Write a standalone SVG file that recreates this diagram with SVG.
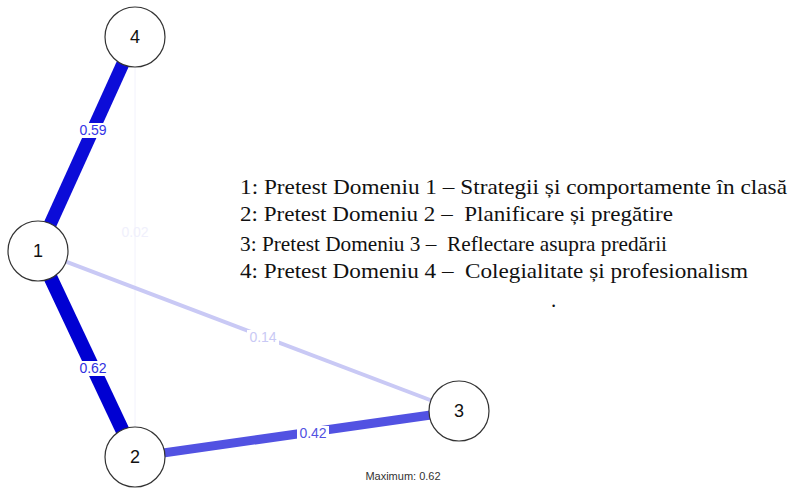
<svg xmlns="http://www.w3.org/2000/svg" width="789" height="488" viewBox="0 0 789 488">
<style>
.node circle{fill:#fff;stroke:#333;stroke-width:1.2}
.node text{font-family:"Liberation Sans",Arial,sans-serif;font-size:18px;fill:#111;text-anchor:middle;dominant-baseline:central}
.elab{font-family:"Liberation Sans",Arial,sans-serif;font-size:14px;text-anchor:middle;dominant-baseline:central}
.bg{fill:#fff}
.leg{font-family:"Liberation Serif","DejaVu Serif",serif;font-size:21px;fill:#111;white-space:pre}
.max{font-family:"Liberation Sans",Arial,sans-serif;font-size:11px;fill:#333;text-anchor:middle}
</style>
<rect width="789" height="488" fill="#fff"/>
<g id="connectors" stroke-linecap="butt">
<line x1="135" y1="37" x2="135" y2="457" stroke="#f2f2fc" stroke-width="1"/>
<line x1="38" y1="251" x2="459" y2="411" stroke="#c9c9f5" stroke-width="4"/>
<line x1="135" y1="457" x2="459" y2="411" stroke="#5252e2" stroke-width="9"/>
<line x1="135" y1="37" x2="38" y2="251" stroke="#0c0cd8" stroke-width="13"/>
<line x1="38" y1="251" x2="135" y2="457" stroke="#0000d2" stroke-width="14"/>
<text class="elab" x="135" y="232" fill="#f0f0fc">0.02</text>
<rect class="bg" x="247" y="330" width="32" height="15"/>
<text class="elab" x="263" y="337" fill="#c9c9f5">0.14</text>
<rect class="bg" x="297" y="426" width="32" height="15"/>
<text class="elab" x="313" y="433" fill="#5252e2">0.42</text>
<rect class="bg" x="77" y="123" width="32" height="15"/>
<text class="elab" x="93" y="130" fill="#3535e6">0.59</text>
<rect class="bg" x="77" y="361" width="32" height="15"/>
<text class="elab" x="93" y="368" fill="#3030e0">0.62</text>
</g>
<g id="node4" class="node"><circle cx="135" cy="37" r="30"/><text x="135" y="37">4</text></g>
<g id="node1" class="node"><circle cx="38" cy="251" r="30"/><text x="38" y="251">1</text></g>
<g id="node2" class="node"><circle cx="135" cy="457" r="30"/><text x="135" y="457">2</text></g>
<g id="node3" class="node"><circle cx="459" cy="411" r="30"/><text x="459" y="411">3</text></g>
<g id="legend">
<text class="leg" x="240" y="194" textLength="547" lengthAdjust="spacingAndGlyphs">1: Pretest Domeniu 1 – Strategii și comportamente în clasă</text>
<text class="leg" x="240" y="221" textLength="433" lengthAdjust="spacingAndGlyphs" xml:space="preserve">2: Pretest Domeniu 2 –  Planificare și pregătire</text>
<text class="leg" x="240" y="251" textLength="427" lengthAdjust="spacingAndGlyphs" xml:space="preserve">3: Pretest Domeniu 3 –  Reflectare asupra predării</text>
<text class="leg" x="240" y="278" textLength="508" lengthAdjust="spacingAndGlyphs" xml:space="preserve">4: Pretest Domeniu 4 –  Colegialitate și profesionalism</text>
<text class="leg" x="551" y="307">.</text>
</g>
<text class="max" x="403" y="480">Maximum: 0.62</text>
</svg>
